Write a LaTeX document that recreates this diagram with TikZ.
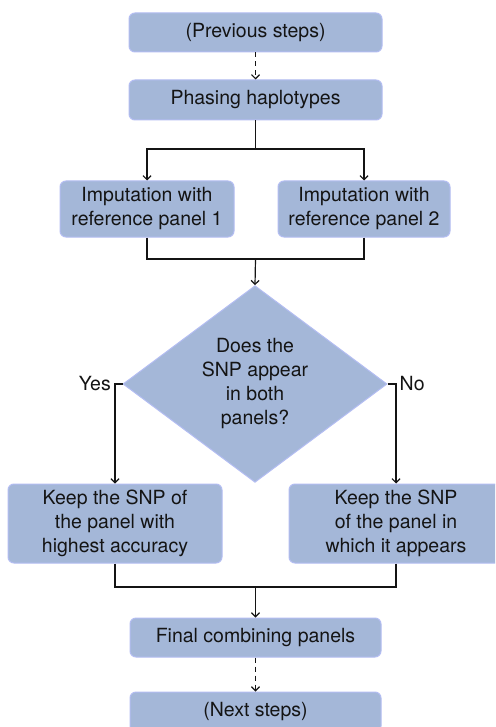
\documentclass[tikz,border=0pt]{standalone}
\usepackage{fontspec}
\setmainfont{TeX Gyre Heros}
\usetikzlibrary{shapes.geometric,arrows.meta}
\definecolor{boxfill}{HTML}{A4B7D8}
\definecolor{boxline}{HTML}{B3BDF2}
\definecolor{txt}{HTML}{141414}
\tikzset{
  stepbox/.style={draw=boxline, fill=boxfill, line width=1pt, rounded corners=6pt,
    align=center, text=txt, inner sep=0pt, font=\fontsize{19.5}{24}\selectfont},
  decision/.style={diamond, draw=boxline, fill=boxfill, line width=1pt,
    align=center, text=txt, inner sep=0pt, font=\fontsize{19.5}{24}\selectfont},
  conn/.style={line width=1.2pt, draw=black!92},
  arr/.style={conn, -{Straight Barb[length=4pt,width=8pt]}},
  dasharr/.style={arr, dash pattern=on 5pt off 4pt},
  lbl/.style={text=txt, font=\fontsize{19.5}{24}\selectfont, inner sep=0pt}
}
\begin{document}
\begin{tikzpicture}[x=1pt,y=-1pt]
\clip (0,0) rectangle (495,727);
\fill[white] (0,0) rectangle (495,727);

\node[stepbox, minimum width=253pt, minimum height=39pt] (prev) at (255.5,32.5) {(Previous steps)};
\node[stepbox, minimum width=253pt, minimum height=40pt] (phase) at (255.5,100) {Phasing haplotypes};
\node[stepbox, minimum width=174pt, minimum height=56pt] (imp1) at (147,209) {Imputation with\\reference panel 1};
\node[stepbox, minimum width=172pt, minimum height=56pt] (imp2) at (364,209) {Imputation with\\reference panel 2};
\node[decision, minimum width=264pt, minimum height=176pt] (dec) at (255,384) {Does the\\SNP appear\\in both\\panels?};
\node[stepbox, minimum width=214pt, minimum height=79pt] (keep1) at (115,523.5) {Keep the SNP of\\the panel with\\highest accuracy};
\node[stepbox, minimum width=214pt, minimum height=79pt] (keep2) at (396,523.5) {Keep the SNP\\of the panel in\\which it appears};
\node[stepbox, minimum width=251pt, minimum height=39pt] (final) at (255.5,637.5) {Final combining panels};
\node[stepbox, minimum width=251pt, minimum height=40pt] (next) at (255.5,712) {(Next steps)};

\coordinate (s1) at (255.5,149);
\coordinate (m1) at (255.5,259);
\coordinate (m2) at (255.5,587);

\draw[dasharr] (prev) -- (phase);
\draw[conn] (phase.south) -- (s1);
\draw[arr] (s1) -| (imp1.north);
\draw[arr] (s1) -| (imp2.north);
\draw[conn] (imp1.south) |- (m1);
\draw[conn] (imp2.south) |- (m1);
\draw[arr] (m1) -- (dec.north);
\draw[arr] (dec.west) -| (keep1.north);
\draw[arr] (dec.east) -| (keep2.north);
\node[lbl, anchor=east] (yes) at (111,384) {Yes};
\node[lbl, anchor=west] (no) at (399.5,384) {No};
\draw[conn] (keep1.south) |- (m2);
\draw[conn] (keep2.south) |- (m2);
\draw[arr] (m2) -- (final.north);
\draw[dasharr] (final) -- (next);
\end{tikzpicture}
\end{document}
